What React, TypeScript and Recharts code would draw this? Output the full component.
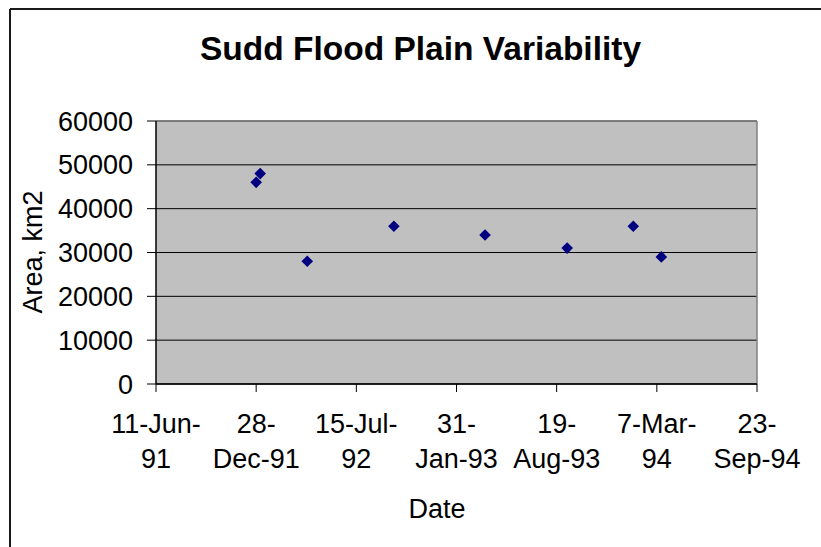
import React from "react";
import {
  ScatterChart,
  Scatter,
  XAxis,
  YAxis,
  CartesianGrid,
  ReferenceLine,
} from "recharts";

const FONT = "Liberation Sans, Arial, sans-serif";

const OBS_DATES = [
  "1991-12-28",
  "1992-01-05",
  "1992-04-08",
  "1992-09-28",
  "1993-03-29",
  "1993-09-09",
  "1994-01-19",
  "1994-03-16",
];
const AREAS = [46000, 48000, 28000, 36000, 34000, 31000, 36000, 29000];

const X_TICK_DATES = [
  "1991-06-11",
  "1991-12-28",
  "1992-07-15",
  "1993-01-31",
  "1993-08-19",
  "1994-03-07",
  "1994-09-23",
];
const X_TICK_LABELS = [
  ["11-Jun-", "91"],
  ["28-", "Dec-91"],
  ["15-Jul-", "92"],
  ["31-", "Jan-93"],
  ["19-", "Aug-93"],
  ["7-Mar-", "94"],
  ["23-", "Sep-94"],
];
const Y_TICKS = [0, 10000, 20000, 30000, 40000, 50000, 60000];

const day = (s: string) => Date.parse(s + "T00:00:00Z") / 86400000;

const data = OBS_DATES.map((d, i) => ({ x: day(d), y: AREAS[i] }));
const xTicks = X_TICK_DATES.map(day);

function DateTick(props: any) {
  const { x, y, index } = props;
  const lines = X_TICK_LABELS[index] ?? ["", ""];
  return (
    <text x={x} y={y} textAnchor="middle" fontSize={27} fontFamily={FONT} fill="#000">
      <tspan x={x} dy={41}>{lines[0]}</tspan>
      <tspan x={x} dy={35}>{lines[1]}</tspan>
    </text>
  );
}

function Diamond(props: any) {
  const { cx, cy } = props;
  const r = 5.8;
  return (
    <polygon
      points={`${cx},${cy - r} ${cx + r},${cy} ${cx},${cy + r} ${cx - r},${cy}`}
      fill="#000080"
    />
  );
}

export default function App() {
  return (
    <div style={{ position: "absolute", left: 0, top: 0, width: 821, height: 547, background: "#fff" }}>
      <ScatterChart
        width={821}
        height={547}
        margin={{ top: 121, right: 64, left: 0, bottom: 0 }}
      >
        <CartesianGrid fill="#C0C0C0" stroke="#000" vertical={false} strokeOpacity={1} />
        <XAxis
          type="number"
          dataKey="x"
          domain={[xTicks[0], xTicks[xTicks.length - 1]]}
          ticks={xTicks}
          interval={0}
          height={163}
          tickSize={8}
          tickMargin={0}
          tick={<DateTick />}
          axisLine={{ stroke: "#000", strokeWidth: 1.5 }}
          tickLine={{ stroke: "#000" }}
        />
        <YAxis
          type="number"
          dataKey="y"
          domain={[0, 60000]}
          ticks={Y_TICKS}
          interval={0}
          width={156}
          tickSize={9}
          tickMargin={14}
          tick={{ fill: "#000", fontSize: 27, fontFamily: FONT }}
          axisLine={{ stroke: "#000", strokeWidth: 1.5 }}
          tickLine={{ stroke: "#000" }}
        />
        <ReferenceLine y={60000} stroke="#808080" strokeWidth={1.5} />
        <ReferenceLine x={xTicks[xTicks.length - 1]} stroke="#808080" strokeWidth={1.5} />
        <Scatter data={data} shape={<Diamond />} isAnimationActive={false} />
      </ScatterChart>
      <svg
        width={821}
        height={547}
        style={{ position: "absolute", left: 0, top: 0, pointerEvents: "none" }}
      >
        <line x1={10} y1={9} x2={821} y2={9} stroke="#1a1a1a" strokeWidth={2} />
        <line x1={10} y1={9} x2={10} y2={547} stroke="#1a1a1a" strokeWidth={2} />
        <text x={420.5} y={60} textAnchor="middle" fontSize={33.5} fontWeight="bold" fontFamily={FONT} fill="#000">
          Sudd Flood Plain Variability
        </text>
        <text
          x={42}
          y={252}
          transform="rotate(-90 42 252)"
          textAnchor="middle"
          fontSize={27}
          fontFamily={FONT}
          fill="#000"
        >
          Area, km2
        </text>
        <text x={437} y={518} textAnchor="middle" fontSize={27} fontFamily={FONT} fill="#000">
          Date
        </text>
      </svg>
    </div>
  );
}
